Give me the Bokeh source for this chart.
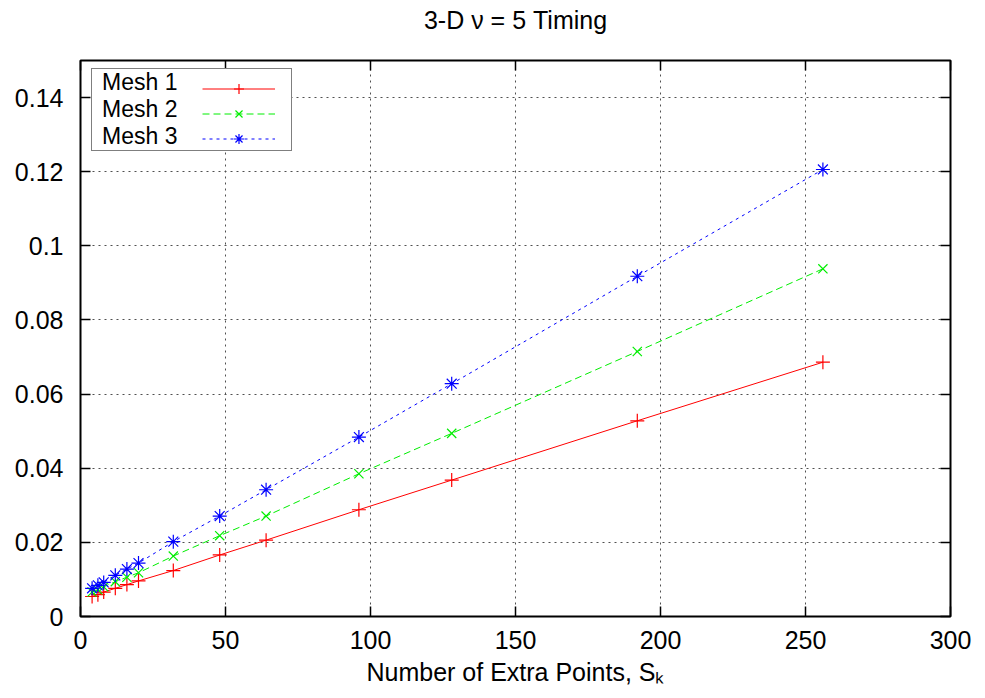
from bokeh.plotting import figure
from bokeh.models import (Range1d, LinearAxis, SingleIntervalTicker, PrintfTickFormatter,
                          CustomJSTickFormatter, Legend, LegendItem)
from bokeh.embed import file_html
from bokeh.resources import INLINE

# ---------------- data ----------------
x_points = [4, 6, 8, 12, 16, 20, 32, 48, 64, 96, 128, 192, 256]
mesh1 = [0.0054, 0.0059, 0.0066, 0.0076, 0.0086, 0.0096, 0.0124, 0.0166, 0.0206,
         0.0288, 0.0368, 0.0528, 0.0686]
mesh2 = [0.0066, 0.0072, 0.0080, 0.0094, 0.0106, 0.0118, 0.0163, 0.0218, 0.0271,
         0.0385, 0.0494, 0.0715, 0.0938]
mesh3 = [0.0076, 0.0084, 0.0092, 0.0111, 0.0128, 0.0144, 0.0202, 0.0271, 0.0342,
         0.0484, 0.0628, 0.0918, 0.1206]
series_names = ["Mesh 1", "Mesh 2", "Mesh 3"]
title_text = "3-D \u03bd = 5 Timing"
x_label = "Number of Extra Points, S\u2096"

FONT = "Liberation Sans"
FS = "25px"

p = figure(width=985, height=698, output_backend="svg", toolbar_location=None,
           x_range=Range1d(0, 300), y_range=Range1d(0, 0.15),
           min_border_left=80, min_border_right=35, min_border_top=60,
           min_border_bottom=82)
p.title_location = None
p.background_fill_color = "white"
p.border_fill_color = "white"
p.outline_line_color = "black"
p.outline_line_width = 2

bottom_axis = p.below[0]
left_axis = p.left[0]
top_axis = LinearAxis()
right_axis = LinearAxis()
p.add_layout(top_axis, "above")
p.add_layout(right_axis, "right")

xt = SingleIntervalTicker(interval=50, num_minor_ticks=0)
yt = SingleIntervalTicker(interval=0.02, num_minor_ticks=0)
for ax in (bottom_axis, top_axis):
    ax.ticker = xt
for ax in (left_axis, right_axis):
    ax.ticker = yt
left_axis.formatter = PrintfTickFormatter(format="%g")
bottom_axis.formatter = PrintfTickFormatter(format="%g")

for ax in (bottom_axis, left_axis, top_axis, right_axis):
    ax.major_tick_in = 10
    ax.major_tick_out = 0
    ax.minor_tick_line_color = None
    ax.axis_line_color = "black"
    ax.axis_line_width = 1
    ax.major_tick_line_color = "black"
    ax.major_tick_line_width = 1.5
    ax.major_label_text_font = FONT
    ax.major_label_text_font_size = FS
    ax.major_label_text_color = "black"
for ax in (top_axis, right_axis):
    ax.formatter = CustomJSTickFormatter(code="return ''")
    ax.major_label_text_font_size = "2px"
    ax.major_label_standoff = 0
bottom_axis.major_label_standoff = 14
left_axis.major_label_standoff = 17

# chart title, centred over the frame (carried by the mirrored top axis)
top_axis.axis_label = title_text
top_axis.axis_label_text_font = FONT
top_axis.axis_label_text_font_size = FS
top_axis.axis_label_text_font_style = "normal"
top_axis.axis_label_text_color = "black"
top_axis.axis_label_standoff = 27

bottom_axis.axis_label = x_label
bottom_axis.axis_label_text_font = FONT
bottom_axis.axis_label_text_font_size = FS
bottom_axis.axis_label_text_font_style = "normal"
bottom_axis.axis_label_text_color = "black"
bottom_axis.axis_label_standoff = 6

# grid
for g in (p.xgrid[0], p.ygrid[0]):
    g.grid_line_color = "#505050"
    g.grid_line_dash = "2 4"
    g.grid_line_width = 1

# series
r1 = p.line(x_points, mesh1, line_color="#ff0000", line_width=1)
s1 = p.scatter(x_points, mesh1, marker="cross", size=14, line_color="#ff0000", line_width=1.2)
r2 = p.line(x_points, mesh2, line_color="#00ee00", line_width=1, line_dash="7 4")
s2 = p.scatter(x_points, mesh2, marker="x", size=13, line_color="#00ee00", line_width=1.2)
r3 = p.line(x_points, mesh3, line_color="#0000ff", line_width=1, line_dash="3 4")
s3 = p.scatter(x_points, mesh3, marker="asterisk", size=14, line_color="#0000ff", line_width=1.2)

# legend: box + names (gnuplot style, names on the left, samples on the right)
ROW = 25
LEG_BOTTOM = 465   # legend bottom edge, pixels above the frame bottom
LFS = "23px"
legend_text = Legend(
    items=[LegendItem(label=n, renderers=[]) for n in series_names],
    location=(11, LEG_BOTTOM), padding=0, spacing=0,
    glyph_width=0, glyph_height=ROW, label_height=ROW, label_width=189,
    label_standoff=10,
    label_text_font=FONT, label_text_font_size=LFS, label_text_color="black",
    border_line_color="black", border_line_width=1.5,
    background_fill_color="white", background_fill_alpha=1.0)
p.add_layout(legend_text)

legend_marks = Legend(
    items=[LegendItem(label=" ", renderers=[r1, s1]),
           LegendItem(label=" ", renderers=[r2, s2]),
           LegendItem(label=" ", renderers=[r3, s3])],
    location=(122, LEG_BOTTOM), padding=0, spacing=0,
    glyph_width=73, glyph_height=ROW, label_height=ROW, label_standoff=0,
    label_text_font=FONT, label_text_font_size=LFS,
    border_line_color=None, background_fill_alpha=0.0)
p.add_layout(legend_marks)

open("out.html", "w").write(file_html(p, INLINE))
